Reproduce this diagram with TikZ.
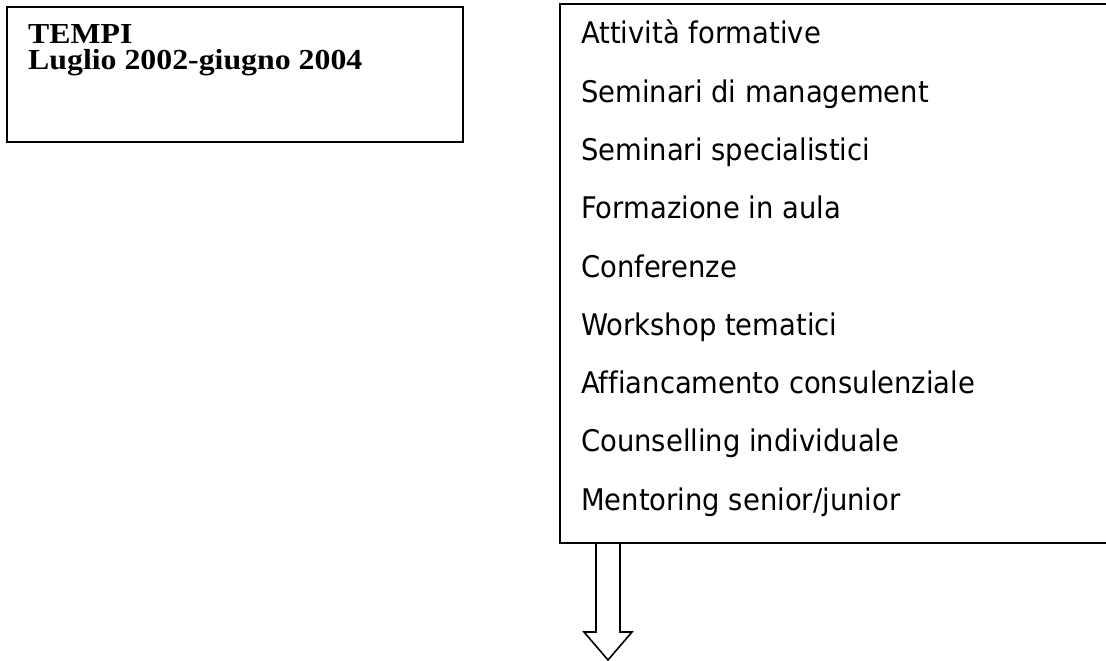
\documentclass[tikz,border=0pt]{standalone}
\usepackage{fontspec}
\setmainfont{Liberation Serif}
\newfontfamily\tah[Ligatures=NoCommon]{DejaVu Sans}
\begin{document}
\begin{tikzpicture}[x=1pt,y=-1pt,
  box/.style={draw,line width=2pt,inner sep=0pt,outer sep=0pt},
  arr/.style={draw,line width=1.6pt,line join=miter},
  lefttext/.style={anchor=base west,inner sep=0pt,xscale=1.097,font=\bfseries\fontsize{29}{31}\selectfont},
  item/.style={anchor=base west,inner sep=0pt,xscale=0.92,font=\tah\fontsize{29.8}{32}\selectfont}]
\useasboundingbox (0,0) rectangle (1106,661);
\node[box,anchor=north west,minimum width=456pt,minimum height=135pt] (tempi) at (7,7) {};
\node[lefttext] (t1) at (28,44) {TEMPI};
\node[lefttext] (t2) at (28,70) {Luglio 2002-giugno 2004};
\node[box,anchor=north west,minimum width=570pt,minimum height=539pt] (list) at (559.5,4) {};
\foreach \txt [count=\i from 0] in {Attività formative,Seminari di management,Seminari specialistici,Formazione in aula,Conferenze,Workshop tematici,Affiancamento consulenziale,Counselling individuale,Mentoring senior/junior}
  \node[item] (i\i) at (581,44+\i*58.25) {\txt};
\path (list.south west) ++(48.5,0) coordinate (ar);
\draw[arr] ([xshift=-12pt]ar) -- ++(0,89) -- ++(-12,0) -- ++(24,28) -- ++(24,-28) -- ++(-12,0) -- ++(0,-89);
\end{tikzpicture}
\end{document}
